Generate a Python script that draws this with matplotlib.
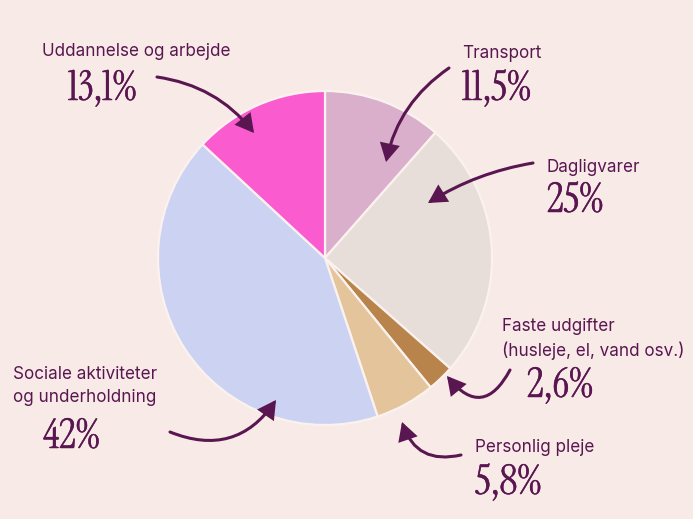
import matplotlib
matplotlib.use("Agg")
import matplotlib.pyplot as plt
from matplotlib.patches import FancyArrowPatch
import matplotlib.patheffects as pe

# ---- data ----
categories = ["Transport", "Dagligvarer", "Faste udgifter\n(husleje, el, vand osv.)",
              "Personlig pleje", "Sociale aktiviteter\nog underholdning", "Uddannelse og arbejde"]
values = [11.5, 25.0, 2.6, 5.8, 42.0, 13.1]
value_labels = ["11,5%", "25%", "2,6%", "5,8%", "42%", "13,1%"]
colors = ["#d9afcb", "#e7ded9", "#b8844b", "#e4c59b", "#cbd2f2", "#fa5ccf"]

BG = "#f8ebe7"
INK = "#5a1650"

W, H = 693, 519
fig = plt.figure(figsize=(W / 100, H / 100), dpi=100, facecolor=BG)
ax = fig.add_axes([0, 0, 1, 1])
ax.set_facecolor(BG)

def Y(y):  # convert top-left pixel y to data y
    return H - y

ax.pie(values, colors=colors, startangle=90, counterclock=False,
       center=(325, Y(258)), radius=167, frame=True,
       wedgeprops=dict(edgecolor="#fbf2ef", linewidth=1.6))
ax.set_xlim(0, W)
ax.set_ylim(0, H)
ax.set_aspect("equal")
ax.axis("off")

label_font = dict(family=["Inter", "DejaVu Sans"], fontsize=12.3, color=INK)
pct_font = dict(family=["Instrument Serif", "DejaVu Serif"], fontsize=29.5, color=INK,
                path_effects=[pe.withStroke(linewidth=0.35, foreground=INK)])

# (label x, label y, pct x, pct y) in top-left pixel coords
layout = [
    (462, 53, 462, 89),
    (546, 167, 547, 201),
    (502, 339, 527, 386),
    (475, 448, 475, 483),
    (13, 386, 43, 437),
    (42, 51, 68, 89),
]
for cat, pct, (lx, ly, px, py) in zip(categories, value_labels, layout):
    ax.text(lx, Y(ly), cat, ha="left", va="center", linespacing=1.45, **label_font)
    ax.text(px, Y(py), pct, ha="left", va="center", **pct_font)

# arrows: (start, end, rad)
arrows = [
    ((449, 68), (386, 162), 0.2),
    ((533, 163), (428, 203), 0.1),
    ((510, 370), (447, 376), -0.75),
    ((461, 455), (402, 422), -0.45),
    ((170, 432), (276, 400), 0.4),
    ((157, 77), (254, 133), -0.2),
]
for (x0, y0), (x1, y1), rad in arrows:
    a = FancyArrowPatch((x0, Y(y0)), (x1, Y(y1)),
                        connectionstyle=f"arc3,rad={rad}",
                        arrowstyle="-|>,head_length=10,head_width=5.5",
                        color=INK, linewidth=2.2, shrinkA=0, shrinkB=0,
                        joinstyle="miter", capstyle="round")
    ax.add_patch(a)

fig.savefig("out.png", dpi=100, facecolor=BG)
